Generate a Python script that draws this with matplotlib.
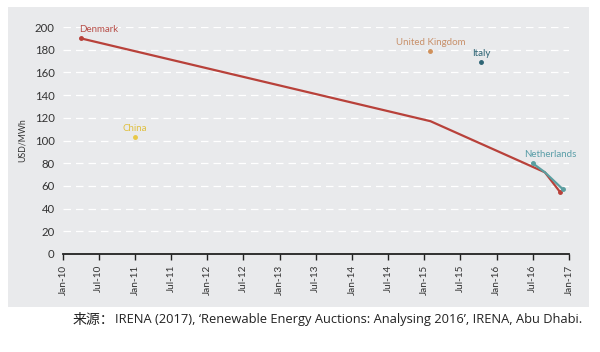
import matplotlib
matplotlib.use("Agg")
import matplotlib.pyplot as plt
import matplotlib.dates as mdates
from matplotlib.patches import Rectangle
import pandas as pd

plt.rcParams['font.family'] = ['Lato', 'DejaVu Sans']

# Data
denmark_dates = pd.to_datetime(["2010-04-01", "2015-02-01", "2016-09-01", "2016-11-15"])
denmark_vals = [190, 117, 72, 55]
nl_dates = pd.to_datetime(["2016-07-01", "2016-09-01", "2016-12-01"])
nl_vals = [80, 72, 57]
china_date = pd.to_datetime(["2011-01-01"]); china_val = [103]
uk_date = pd.to_datetime(["2015-02-01"]); uk_val = [179]
italy_date = pd.to_datetime(["2015-10-15"]); italy_val = [169]
tick_dates = pd.date_range("2010-01-01", "2017-01-01", freq="6MS")
yticks = list(range(0, 201, 20))

bg = "#e9eaec"
fig = plt.figure(figsize=(6, 3.52), dpi=100)
fig.patch.set_facecolor("white")
bgax = fig.add_axes([0, 0, 1, 1], zorder=-10)
bgax.set_axis_off()
bgax.add_patch(Rectangle((8/600, 1-307/352), 581/600, 300/352, transform=bgax.transAxes,
                         facecolor=bg, edgecolor="none"))
ax = fig.add_axes([63/600, 98/352, 506/600, 227/352])
ax.set_facecolor(bg)
for s in ["top", "right", "left"]:
    ax.spines[s].set_visible(False)
ax.spines["bottom"].set_color("#222222")
ax.spines["bottom"].set_linewidth(1.3)

ax.set_ylim(0, 200)
ax.set_xlim(pd.Timestamp("2010-01-01"), pd.Timestamp("2017-01-01"))
ax.set_yticks(yticks)
ax.yaxis.grid(True, color="white", linestyle=(0, (6, 4)), linewidth=0.9)
ax.set_axisbelow(True)
ax.tick_params(axis="y", length=0, labelsize=8.2, labelcolor="#333333", pad=6)
ax.set_xticks(tick_dates)
ax.xaxis.set_major_formatter(mdates.DateFormatter("%b-%y"))
ax.tick_params(axis="x", direction="out", length=4, width=1, color="#222222",
               labelsize=7.2, labelrotation=90, labelcolor="#333333")
ax.set_ylabel("USD/MWh", fontsize=6.3, color="#333333", labelpad=6)

red = "#b8413a"
teal = "#5a9ea0"
ax.plot(denmark_dates, denmark_vals, color=red, lw=1.6, zorder=3)
ax.plot(nl_dates, nl_vals, color=teal, lw=1.6, zorder=4)
ax.plot(denmark_dates[[0, -1]], [denmark_vals[0], denmark_vals[-1]], 'o', color=red, ms=2.5, zorder=5)
ax.plot(nl_dates[[0, -1]], [nl_vals[0], nl_vals[-1]], 'o', color=teal, ms=2.5, zorder=5)
ax.plot(china_date, china_val, 'o', color="#e8c848", ms=2.5)
ax.plot(uk_date, uk_val, 'o', color="#d0905a", ms=2.5)
ax.plot(italy_date, italy_val, 'o', color="#2e6474", ms=2.5)

lab = 7
ax.annotate("Denmark", (denmark_dates[0], denmark_vals[0]), xytext=(-1, 3), textcoords="offset points",
            fontsize=lab, color="#b8504a", ha="left", va="bottom", annotation_clip=False)
ax.annotate("China", (china_date[0], china_val[0]), xytext=(0, 3), textcoords="offset points",
            fontsize=lab, color="#e0c040", ha="center", va="bottom")
ax.annotate("United Kingdom", (uk_date[0], uk_val[0]), xytext=(0, 3), textcoords="offset points",
            fontsize=lab, color="#c8906a", ha="center", va="bottom")
ax.annotate("Italy", (italy_date[0], italy_val[0]), xytext=(0, 3), textcoords="offset points",
            fontsize=lab, color="#2e6474", ha="center", va="bottom")
ax.annotate("Netherlands", (nl_dates[0], nl_vals[0]), xytext=(-6, 3), textcoords="offset points",
            fontsize=lab, color="#5a9ea8", ha="left", va="bottom")

fig.text(73/600, 1-320/352, "来源：", fontsize=10, color="#222222", ha="left", va="center",
         family=['Noto Sans CJK SC', 'DejaVu Sans'])
fig.text(115/600, 1-320/352, "IRENA (2017), ‘Renewable Energy Auctions: Analysing 2016’, IRENA, Abu Dhabi.",
         fontsize=9.3, color="#222222", ha="left", va="center",
         family=['Open Sans', 'DejaVu Sans'])

fig.savefig("out.png", dpi=100)
